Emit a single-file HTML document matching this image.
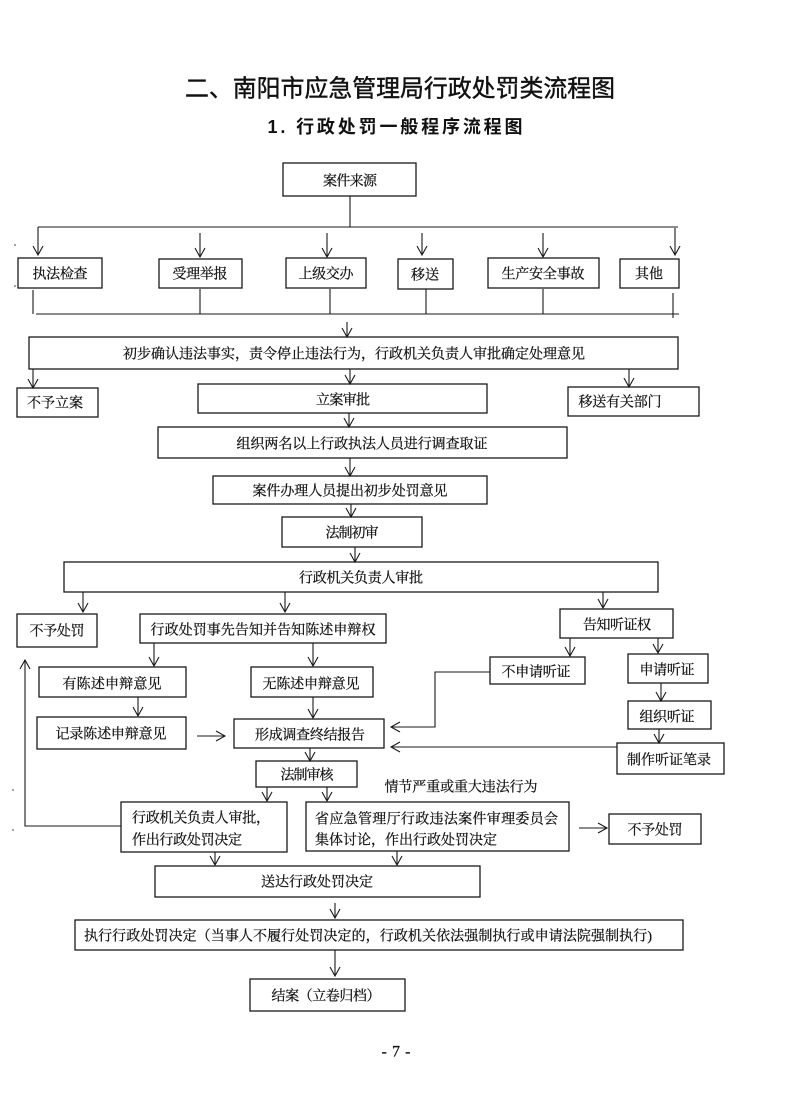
<!DOCTYPE html>
<html><head><meta charset="utf-8">
<style>
html,body{margin:0;padding:0;background:#fff;}
svg{display:block;}
.t{font-family:"Liberation Serif","Noto Serif CJK SC",serif;font-size:14px;fill:#111;stroke:#111;stroke-width:0.25;}
.b{fill:none;stroke:#1a1a1a;stroke-width:1.3;}
.l{fill:none;stroke:#1a1a1a;stroke-width:1.1;}
</style></head>
<body>
<svg width="788" height="1098" viewBox="0 0 788 1098" xmlns="http://www.w3.org/2000/svg">
<rect width="788" height="1098" fill="#fff"/>
<!-- titles -->
<text x="400" y="89" text-anchor="middle" dominant-baseline="central" font-family="'Liberation Sans','Noto Sans CJK SC',sans-serif" font-size="24" textLength="430" lengthAdjust="spacingAndGlyphs" fill="#111" stroke="#111" stroke-width="0.4">二、南阳市应急管理局行政处罚类流程图</text>
<text x="395" y="127" text-anchor="middle" dominant-baseline="central" font-family="'Liberation Sans','Noto Sans CJK SC',sans-serif" font-size="18" font-weight="bold" textLength="255" lengthAdjust="spacing" fill="#111">1. 行政处罚一般程序流程图</text>

<!-- boxes -->
<g class="b">
<rect x="283" y="163" width="133" height="33"/>
<rect x="18" y="258" width="84" height="30"/>
<rect x="159" y="259" width="83" height="29"/>
<rect x="286" y="258" width="80" height="30"/>
<rect x="398" y="259" width="55" height="30"/>
<rect x="488" y="258" width="111" height="30"/>
<rect x="620" y="259" width="59" height="29"/>
<rect x="29" y="337" width="649" height="32"/>
<rect x="17" y="388" width="81" height="29"/>
<rect x="198" y="384" width="289" height="29"/>
<rect x="568" y="387" width="131" height="29"/>
<rect x="158" y="427" width="409" height="31"/>
<rect x="213" y="476" width="274" height="28"/>
<rect x="282" y="517" width="140" height="30"/>
<rect x="64" y="562" width="594" height="30"/>
<rect x="17" y="614" width="80" height="33"/>
<rect x="140" y="614" width="246" height="29"/>
<rect x="560" y="609" width="113" height="29"/>
<rect x="39" y="667" width="147" height="30"/>
<rect x="251" y="667" width="122" height="30"/>
<rect x="490" y="657" width="95" height="27"/>
<rect x="628" y="654" width="80" height="29"/>
<rect x="628" y="701" width="83" height="28"/>
<rect x="37" y="717" width="149" height="32"/>
<rect x="234" y="719" width="150" height="29"/>
<rect x="617" y="743" width="107" height="31"/>
<rect x="256" y="761" width="101" height="26"/>
<rect x="121" y="802" width="166" height="50"/>
<rect x="306" y="802" width="263" height="49"/>
<rect x="609" y="814" width="92" height="30"/>
<rect x="155" y="866" width="325" height="31"/>
<rect x="75" y="920" width="608" height="30"/>
<rect x="250" y="979" width="155" height="32"/>
</g>

<!-- lines -->
<g class="l">
<path d="M350 196V227M38 227H678"/>
<path d="M36 314H679M33 290V314M200 289V314M330 289V314M426 289V314M543 289V314M673 293V318"/>
<path d="M490 672H435V727H391"/>
<path d="M617 747H391"/>
<path d="M121 826H25V660"/>
</g>

<!-- arrows -->
<g class="l">
<path d="M38 227V255M33 246L38 255L43 246"/>
<path d="M200 233V257M195 248L200 257L205 248"/>
<path d="M327 233V257M322 248L327 257L332 248"/>
<path d="M422 233V255M417 246L422 255L427 246"/>
<path d="M543 233V257M538 248L543 257L548 248"/>
<path d="M675 228V255M670 246L675 255L680 246"/>
<path d="M347 322V337M342 328L347 337L352 328"/>
<path d="M33 369V388M28 379L33 388L38 379"/>
<path d="M350 369V384M345 375L350 384L355 375"/>
<path d="M629 369V387M624 378L629 387L634 378"/>
<path d="M349 413V427M344 418L349 427L354 418"/>
<path d="M350 458V476M345 467L350 476L355 467"/>
<path d="M351 504V517M346 508L351 517L356 508"/>
<path d="M355 547V562M350 553L355 562L360 553"/>
<path d="M83 592V612M78 603L83 612L88 603"/>
<path d="M285 592V612M280 603L285 612L290 603"/>
<path d="M603 592V608M598 599L603 608L608 599"/>
<path d="M570 638V656M565 647L570 656L575 647"/>
<path d="M658 638V653M653 644L658 653L663 644"/>
<path d="M154 643V666M149 657L154 666L159 657"/>
<path d="M313 643V666M308 657L313 666L318 657"/>
<path d="M138 697V716M133 707L138 716L143 707"/>
<path d="M313 697V718M308 709L313 718L318 709"/>
<path d="M310 748V761M305 752L310 761L315 752"/>
<path d="M661 683V701M656 692L661 701L666 692"/>
<path d="M659 729V743M654 734L659 743L664 734"/>
<path d="M267 787V801M262 792L267 801L272 792"/>
<path d="M327 787V801M322 792L327 801L332 792"/>
<path d="M215 852V865M210 856L215 865L220 856"/>
<path d="M397 851V865M392 856L397 865L402 856"/>
<path d="M335 903V918M330 909L335 918L340 909"/>
<path d="M335 950V976M330 967L335 976L340 967"/>
<path d="M197 736H225M216 731L225 736L216 741"/>
<path d="M579 828H607M598 823L607 828L598 833"/>
<path d="M400 722L391 727L400 732"/>
<path d="M400 742L391 747L400 752"/>
<path d="M20 669L25 660L30 669"/>
</g>

<!-- tiny scan marks -->
<g fill="#333">
<circle cx="15" cy="245" r="0.8"/><circle cx="15" cy="286" r="0.8"/>
<circle cx="13" cy="790" r="0.8"/><circle cx="13" cy="830" r="0.8"/>
</g>

<!-- texts -->
<g class="t" text-anchor="middle" dominant-baseline="central" transform="translate(0,2)">
<text x="350" y="180" textLength="54" lengthAdjust="spacing">案件来源</text>
<text x="60" y="273" textLength="55" lengthAdjust="spacing">执法检查</text>
<text x="200" y="273" textLength="55" lengthAdjust="spacing">受理举报</text>
<text x="326" y="273" textLength="55" lengthAdjust="spacing">上级交办</text>
<text x="425" y="274" textLength="28" lengthAdjust="spacing">移送</text>
<text x="543" y="273" textLength="83" lengthAdjust="spacing">生产安全事故</text>
<text x="649" y="273" textLength="28" lengthAdjust="spacing">其他</text>
<text x="354" y="353" textLength="462" lengthAdjust="spacing">初步确认违法事实，责令停止违法行为，行政机关负责人审批确定处理意见</text>
<text x="55" y="402" textLength="56" lengthAdjust="spacing">不予立案</text>
<text x="343" y="399" textLength="54" lengthAdjust="spacing">立案审批</text>
<text x="620" y="401" textLength="83" lengthAdjust="spacing">移送有关部门</text>
<text x="362" y="443" textLength="251" lengthAdjust="spacing">组织两名以上行政执法人员进行调查取证</text>
<text x="350" y="490" textLength="195" lengthAdjust="spacing">案件办理人员提出初步处罚意见</text>
<text x="352" y="532" textLength="53" lengthAdjust="spacing">法制初审</text>
<text x="361" y="577" textLength="124" lengthAdjust="spacing">行政机关负责人审批</text>
<text x="57" y="630" textLength="55" lengthAdjust="spacing">不予处罚</text>
<text x="263" y="629" textLength="225" lengthAdjust="spacing">行政处罚事先告知并告知陈述申辩权</text>
<text x="617" y="624" textLength="68" lengthAdjust="spacing">告知听证权</text>
<text x="112" y="683" textLength="99" lengthAdjust="spacing">有陈述申辩意见</text>
<text x="311" y="683" textLength="97" lengthAdjust="spacing">无陈述申辩意见</text>
<text x="536" y="671" textLength="69" lengthAdjust="spacing">不申请听证</text>
<text x="667" y="669" textLength="55" lengthAdjust="spacing">申请听证</text>
<text x="667" y="716" textLength="55" lengthAdjust="spacing">组织听证</text>
<text x="111" y="733" textLength="111" lengthAdjust="spacing">记录陈述申辩意见</text>
<text x="310" y="734" textLength="110" lengthAdjust="spacing">形成调查终结报告</text>
<text x="669" y="759" textLength="84" lengthAdjust="spacing">制作听证笔录</text>
<text x="307" y="774" textLength="53" lengthAdjust="spacing">法制审核</text>
<text x="461" y="786" textLength="153" lengthAdjust="spacing">情节严重或重大违法行为</text>
<text x="655" y="829" textLength="55" lengthAdjust="spacing">不予处罚</text>
<text x="317" y="881" textLength="112" lengthAdjust="spacing">送达行政处罚决定</text>
<text x="368" y="935" textLength="568" lengthAdjust="spacing">执行行政处罚决定（当事人不履行处罚决定的，行政机关依法强制执行或申请法院强制执行)</text>
<text x="326" y="995" textLength="109" lengthAdjust="spacing">结案（立卷归档）</text>
<text x="396" y="1050" font-size="16" textLength="29" lengthAdjust="spacing">- 7 -</text>
</g>
<g class="t" dominant-baseline="central" transform="translate(0,2)">
<text x="132" y="817" textLength="138" lengthAdjust="spacing">行政机关负责人审批，</text>
<text x="132" y="839" textLength="110" lengthAdjust="spacing">作出行政处罚决定</text>
<text x="315" y="818" textLength="243" lengthAdjust="spacing">省应急管理厅行政违法案件审理委员会</text>
<text x="315" y="839" textLength="182" lengthAdjust="spacing">集体讨论，作出行政处罚决定</text>
</g>
</svg>
</body></html>
